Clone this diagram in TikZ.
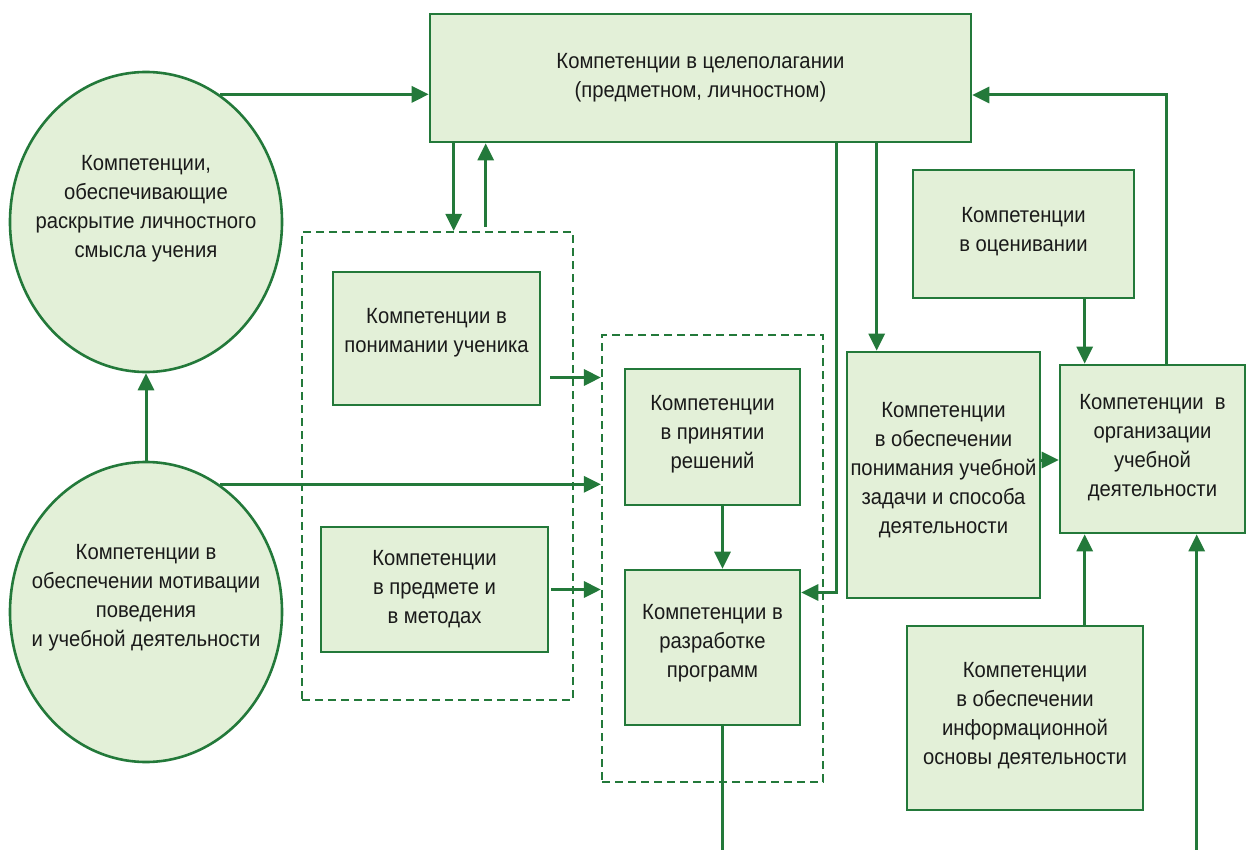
\documentclass[tikz,border=0pt]{standalone}
\usepackage{fontspec}
\setmainfont{Liberation Sans}[FakeStretch=0.92]
\usepackage{xcolor}
\definecolor{cMain}{HTML}{23793A}
\definecolor{cFill}{HTML}{E3F0D8}
\definecolor{cText}{HTML}{1A1A1A}
\usetikzlibrary{positioning,arrows.meta,shapes.geometric}
\tikzset{
  node-box/.style={draw=cMain,line width=2.6pt,fill=cFill,align=center,
    inner sep=0pt,text=cText,font=\fontsize{22}{29}\selectfont},
  node-oval/.style={node-box,ellipse,inner sep=-40pt},
  node-group/.style={draw=cMain,line width=2.2pt,dash pattern=on 8pt off 5pt,
    inner sep=0pt},
  arrow/.style={-{Triangle[length=17pt,width=16pt]},line width=3pt,draw=cMain},
  link/.style={line width=2.4pt,draw=cMain},
}

\begin{document}
\begin{tikzpicture}[x=1pt,y=-1pt]
  \useasboundingbox (0,0) rectangle (1247,850);

  % groups
  \node[node-group,minimum width=271pt,minimum height=468pt] (grpA) at (437.5,466) {};
  \node[node-group,minimum width=221pt,minimum height=447pt] (grpB) at (712.5,558.5) {};

  % competences
  \node[node-box,minimum width=541pt,minimum height=128pt] (goal) at (700.5,78)
    {Компетенции в целеполагании\\(предметном, личностном)};
  \node[node-oval,minimum width=272pt,minimum height=300pt] (meaning) at (146,222)
    {Компетенции,\\обеспечивающие\\раскрытие личностного\\смысла учения\\[3pt]};
  \node[node-oval,minimum width=272pt,minimum height=300pt] (motive) at (146,612)
    {Компетенции в\\обеспечении мотивации\\поведения\\и учебной деятельности\\[5pt]};
  \node[node-box,minimum width=207pt,minimum height=133pt] (pupil) at (436.5,338.5)
    {Компетенции в\\понимании ученика\\[-13pt]};
  \node[node-box,minimum width=227pt,minimum height=125pt] (subject) at (434.5,589.5)
    {Компетенции\\в предмете и\\в методах};
  \node[node-box,minimum width=175pt,minimum height=136pt] (decide) at (712.5,437)
    {Компетенции\\в принятии\\решений\\[-19pt]};
  \node[node-box,minimum width=175pt,minimum height=155pt] (program) at (712.5,647.5)
    {Компетенции в\\разработке\\программ\\[-16pt]};
  \node[node-box,minimum width=193pt,minimum height=246pt] (task) at (943.5,475)
    {Компетенции\\в обеспечении\\понимания учебной\\задачи и способа\\деятельности\\[-14pt]};
  \node[node-box,minimum width=221pt,minimum height=128pt] (assess) at (1023.5,234)
    {Компетенции\\в оценивании\\[-19pt]};
  \node[node-box,minimum width=185pt,minimum height=168pt] (organize) at (1152.5,449)
    {Компетенции~ в\\организации\\учебной\\деятельности\\[-22pt]};
  \node[node-box,minimum width=236pt,minimum height=184pt] (info) at (1025,718)
    {Компетенции\\в обеспечении\\информационной\\основы деятельности\\[-19pt]};

  \coordinate (bottom) at (0,850);

  % connectors
  \draw[arrow] (meaning.60.4) -- (meaning.60.4 -| goal.west);
  \draw[arrow] (motive.60.4) -- (motive.60.4 -| grpB.west);
  \draw[arrow] (motive.north) -- (meaning.south);
  \draw[arrow] ([xshift=25pt]goal.south west) -- ([xshift=25pt]goal.south west |- grpA.north);
  \draw[arrow] ([xshift=57pt,yshift=4pt]goal.south west |- grpA.north) -- ([xshift=57pt]goal.south west);
  \draw[arrow] ([xshift=9pt,yshift=-39pt]pupil.east) -- ([yshift=-39pt]pupil.east -| grpB.west);
  \draw[arrow] ([xshift=2pt]subject.east) -- (subject.east -| grpB.west);
  \draw[arrow] ([xshift=10pt]decide.south) -- ([xshift=10pt]program.north);
  \draw[arrow] ([xshift=408pt]goal.south west) |- ([yshift=55pt]program.east);
  \draw[arrow] ([xshift=448pt]goal.south west) -- ([xshift=448pt]goal.south west |- task.north);
  \draw[arrow] ([xshift=26pt]organize.north west |- assess.south) -- ([xshift=26pt]organize.north west);
  \draw[arrow] ([xshift=108pt]organize.north west) |- ([yshift=-17pt]goal.east);
  \draw[arrow] ([yshift=15pt]task.east) -- ([yshift=15pt]task.east -| organize.west);
  \draw[arrow] ([xshift=26pt]organize.south west |- info.north) -- ([xshift=26pt]organize.south west);
  \draw[arrow] ([xshift=138pt]organize.south west |- bottom) -- ([xshift=138pt]organize.south west);
  \draw[link] ([xshift=10pt]program.south) -- ([xshift=10pt]program.south |- bottom);
\end{tikzpicture}
\end{document}
